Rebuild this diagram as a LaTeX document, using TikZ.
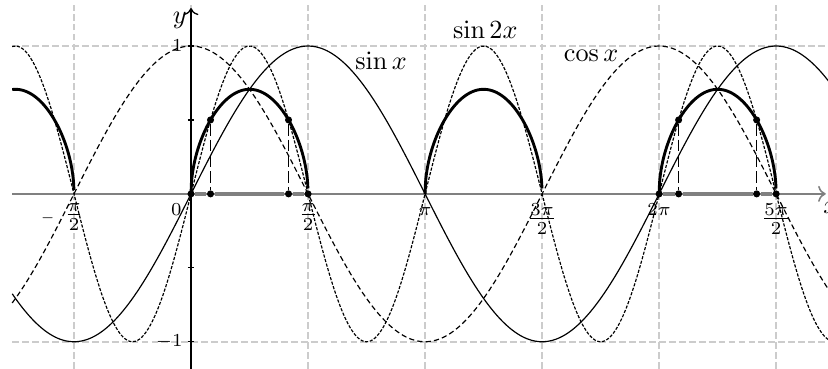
\documentclass[tikz,border=0pt]{standalone}
\usepackage{amsmath}
\usetikzlibrary{arrows.meta}
\tikzset{
  pl/.style={x=1cm, y=1.985cm, >=To, every node/.style={inner sep=1.5pt}},
  grd/.style={gray!40, line width=0.6pt, dash pattern=on 2.6pt off 1.2pt},
  fn/.style={line width=0.45pt, samples=200, smooth, domain=-2.4:8.6},
  cosl/.style={fn, dash pattern=on 2pt off 1.2pt},
  dbl/.style={fn, dash pattern=on 1.2pt off 0.6pt},
  arc/.style={line width=1.1pt, samples=300},
  seg/.style={gray, line width=1.3pt},
  drop/.style={line width=0.5pt, dash pattern=on 4.5pt off 1.5pt},
  pt/.style={circle, fill, inner sep=0pt, minimum size=2.7pt},
  xlab/.style={below, inner sep=3.4pt},
  small/.style={font=\scriptsize}
}
\newcommand{\axl}[1]{\vphantom{\frac{\pi}{2}}#1}

\begin{document}
\begin{tikzpicture}[pl]
\useasboundingbox (-2.564,-1.182) rectangle (8.55,1.311);
\foreach \k in {-1,...,5} \draw[grd] ({\k*pi/2},-1.25) -- ({\k*pi/2},1.277);
\foreach \v in {-1,1} \draw[grd] (-2.4,\v) -- (8.6,\v);
\draw[gray, line width=0.6pt, ->] (-2.4,0) -- (8.52,0);
\draw[line width=0.5pt, ->] (0,-1.25) -- (0,1.257);
\foreach \v in {-1,-0.5,0.5,1} \draw[line width=0.5pt] ([xshift=-1.2pt]0,\v) -- ([xshift=1.2pt]0,\v);
\node[anchor=north west, inner sep=0pt] (xl) at (8.48,-0.05) {$x$};
\node[anchor=north east] (yl) at (0,1.257) {$y$};
\node[left, small, inner sep=3pt] (t1) at (0,1) {$1$};
\node[left, small, inner sep=3pt] (tm1) at (0,-1) {$-1$};
\node[xlab] (lm) at ({-pi/2},0) {$\llap{$\scriptscriptstyle-$\hspace{3.7pt}}\frac{\pi}{2}$};
\node[xlab, small, anchor=north east] (l0) at (0,0) {$\axl{0}$};
\node[xlab] (l1) at ({pi/2},0) {$\frac{\pi}{2}$};
\node[xlab, small] (l2) at (pi,0) {$\axl{\pi}$};
\node[xlab] (l3) at ({3*pi/2},0) {$\frac{3\pi}{2}$};
\node[xlab, small] (l4) at ({2*pi},0) {$\axl{2\pi}$};
\node[xlab] (l5) at ({5*pi/2},0) {$\frac{5\pi}{2}$};
\draw[fn] plot (\x,{sin(\x r)});
\draw[cosl] plot (\x,{cos(\x r)});
\draw[dbl] plot (\x,{sin(2*\x r)});
\foreach \a/\b in {-2.4/-1.5708, 0/1.5708, 3.1416/4.7124, 6.2832/7.854}
  \draw[arc] plot[domain=\a:\b] (\x,{sqrt(max(0,sin(2*\x r)/2))});
\node (ls) at (2.55,0.90) {$\sin x$};
\node (ld) at (3.95,1.11) {$\sin 2x$};
\node (lc) at (5.37,0.93) {$\cos x$};
\foreach \s/\nm in {0/a, 6.2832/b} {
  \node[pt] (\nm0) at (\s,0) {};
  \node[pt] (\nm1) at ({\s+pi/12},0) {};
  \node[pt] (\nm2) at ({\s+5*pi/12},0) {};
  \node[pt] (\nm3) at ({\s+pi/2},0) {};
  \node[pt] (\nm4) at ({\s+pi/12},0.5) {};
  \node[pt] (\nm5) at ({\s+5*pi/12},0.5) {};
  \draw[seg] (\nm0) -- (\nm1) -- (\nm2) -- (\nm3);
  \draw[drop] (\nm4) -- (\nm1) (\nm5) -- (\nm2);
}
\end{tikzpicture}
\end{document}
